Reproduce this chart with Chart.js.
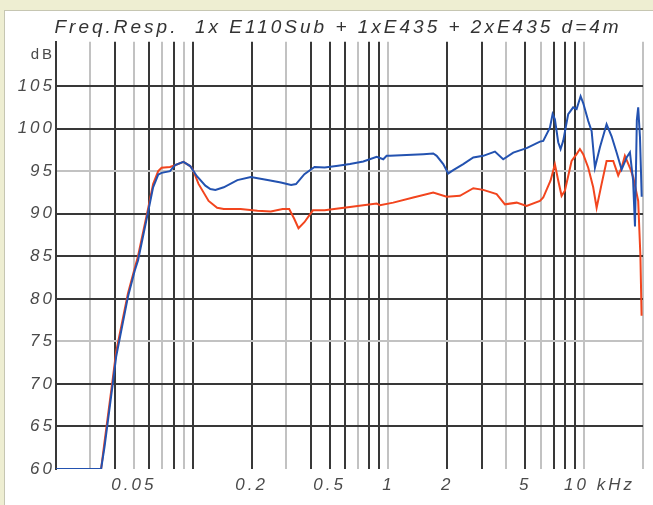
<!DOCTYPE html>
<html>
<head>
<meta charset="utf-8">
<script src="https://cdn.jsdelivr.net/npm/chart.js@4/dist/chart.umd.min.js"></script>
<style>
  html, body { margin: 0; padding: 0; background: #eeeed2; overflow: hidden; }
  #panel { position: absolute; left: 4px; top: 10px; width: 660px; height: 510px; background: #fff; border: 1px solid #c6c6b2; }
  #wrap { position: absolute; left: 0; top: 0; width: 653px; height: 505px; }
</style>
</head>
<body>
<div id="panel"></div>
<div id="wrap"><canvas id="freq" width="653" height="505"></canvas></div>
<script>
// frequencies in kHz, levels in dB
const blueFreq = [0.02, 0.034, 0.0354, 0.039, 0.0406, 0.0466, 0.0505, 0.0525, 0.0591, 0.0627,
  0.0666, 0.0693, 0.0765, 0.0812, 0.0896, 0.097, 0.105, 0.116, 0.123, 0.1305,
  0.144, 0.169, 0.198, 0.241, 0.282, 0.318, 0.337, 0.372, 0.419, 0.472,
  0.553, 0.636, 0.744, 0.871, 0.941, 0.979, 1.018, 1.507, 1.694, 1.764,
  1.906, 2.022, 2.144, 2.412, 2.714, 3.052, 3.502, 3.86, 4.344, 5.084,
  5.946, 6.182, 6.688, 6.904, 7.092, 7.374, 7.584, 7.82, 8.294, 8.796,
  9.156, 9.598, 9.894, 10.5, 10.93, 11.36, 12.05, 13.03, 13.82, 14.66,
  15.55, 16.49, 17.15, 17.8, 18.2, 18.6, 18.9, 19.3, 19.7];
const blueDb = [60, 60, 62.6, 70.0, 73.2, 80.2, 83.3, 84.5, 90.2, 93.1,
  94.6, 94.8, 95.0, 95.7, 96.1, 95.6, 94.4, 93.3, 92.9, 92.8,
  93.1, 93.95, 94.3, 93.95, 93.67, 93.37, 93.48, 94.65, 95.5, 95.43,
  95.63, 95.83, 96.13, 96.68, 96.4, 96.8, 96.8, 97.0, 97.07, 96.8,
  95.83, 94.73, 95.12, 95.83, 96.6, 96.8, 97.3, 96.4, 97.18, 97.7,
  98.47, 98.56, 100.1, 101.7, 101.1, 98.4, 97.6, 98.56, 101.7, 102.5,
  102.3, 103.8, 103.0, 100.9, 99.7, 95.4, 97.8, 100.5, 99.1, 97.2,
  95.2, 96.6, 97.2, 93.9, 88.5, 101, 102.5, 99, 92];

const redFreq = [0.02, 0.034, 0.0354, 0.039, 0.0406, 0.0466, 0.0505, 0.0525, 0.0591, 0.0627,
  0.0666, 0.0693, 0.0765, 0.0812, 0.0896, 0.097, 0.1, 0.107, 0.1205, 0.1332,
  0.144, 0.1755, 0.214, 0.2506, 0.288, 0.311, 0.330, 0.347, 0.372, 0.411,
  0.472, 0.553, 0.636, 0.744, 0.871, 0.905, 1.058, 1.339, 1.694, 1.984,
  2.32, 2.714, 3.052, 3.572, 3.938, 4.522, 5.084, 5.946, 6.182, 6.742,
  7.092, 7.374, 7.674, 7.978, 8.632, 9.156, 9.52, 9.894, 10.5, 11.13,
  11.59, 12.29, 13.03, 14.09, 14.94, 15.55, 16.16, 17.15, 17.82, 18.9,
  19.4, 19.67];
const redDb = [60, 60, 63.2, 70.6, 73.8, 80.6, 83.6, 85, 90.6, 93.5,
  95.0, 95.4, 95.5, 95.7, 96.1, 95.6, 95.2, 93.5, 91.5, 90.7,
  90.55, 90.55, 90.35, 90.27, 90.55, 90.55, 89.4, 88.3, 89.0, 90.4,
  90.4, 90.6, 90.8, 91.0, 91.2, 91.0, 91.3, 91.9, 92.5, 92.0,
  92.1, 93.0, 92.8, 92.3, 91.1, 91.3, 90.9, 91.5, 91.9, 93.9,
  95.8, 93.9, 92.1, 92.7, 96.2, 97.0, 97.6, 97.0, 95.4, 93.1,
  90.7, 93.5, 96.2, 96.2, 94.5, 95.4, 96.8, 95.4, 94.3, 91.5,
  85, 78];

// axis ticks
const xGridTicks = [0.02, 0.03, 0.04, 0.05, 0.06, 0.07, 0.08, 0.09,
  0.1, 0.2, 0.3, 0.4, 0.5, 0.6, 0.7, 0.8, 0.9,
  1, 2, 3, 4, 5, 6, 7, 8, 9, 10, 20];
const xLabelValues = [0.05, 0.2, 0.5, 1, 2, 5, 10];
const xLabelTexts = ['0.05', '0.2', '0.5', '1', '2', '5', '    10 kHz'];
const xDarkLines = [0.02, 0.04, 0.06, 0.08, 0.1, 0.2, 0.4, 0.5, 0.6, 0.8, 0.9, 2, 3, 5, 7, 8, 9];

const yTicks = [60, 65, 70, 75, 80, 85, 90, 95, 100, 105];
const yDarkLines = [65, 70, 80, 85, 90, 100, 105];
const yUnitAt = 108.7;

const DARK = '#383838';
const LIGHT = '#c2c2c2';
const TEXT = '#4a4a4a';

const toPoints = (xs, ys) => xs.map((x, i) => ({ x, y: ys[i] }));

const spacing = {
  id: 'spacing',
  beforeUpdate(chart) { chart.ctx.letterSpacing = '3px'; },
  beforeDraw(chart) { chart.ctx.letterSpacing = '3px'; }
};

const ctx = document.getElementById('freq');

new Chart(ctx, {
  type: 'line',
  data: {
    datasets: [
      {
        label: 'blue',
        data: toPoints(blueFreq, blueDb),
        borderColor: '#2352b0',
        borderWidth: 2,
        pointRadius: 0,
        tension: 0,
      },
      {
        label: 'red',
        data: toPoints(redFreq, redDb),
        borderColor: '#f2451e',
        borderWidth: 2,
        pointRadius: 0,
        tension: 0,
      },
    ],
  },
  options: {
    responsive: false,
    animation: false,
    layout: { padding: { left: 0, right: 10, top: 0, bottom: 0 } },
    plugins: {
      legend: { display: false },
      tooltip: { enabled: false },
      title: {
        display: true,
        text: '    Freq.Resp.  1x E110Sub + 1xE435 + 2xE435 d=4m',
        color: '#333',
        font: { family: 'Liberation Sans', size: 19, style: 'italic', weight: 'normal' },
        padding: { top: 16, bottom: 3 },
      },
    },
    scales: {
      x: {
        type: 'logarithmic',
        min: 0.02,
        max: 20,
        afterBuildTicks: (scale) => { scale.ticks = xGridTicks.map(v => ({ value: v })); },
        afterFit: (scale) => { scale.height = 36; },
        border: { display: false },
        grid: {
          drawTicks: false,
          color: (c) => xDarkLines.includes(c.tick.value) ? DARK : LIGHT,
          lineWidth: 2,
        },
        ticks: {
          autoSkip: false,
          maxRotation: 0,
          padding: 6,
          color: TEXT,
          font: { family: 'Liberation Sans', size: 17, style: 'italic' },
          callback: (value) => {
            const i = xLabelValues.indexOf(value);
            return i >= 0 ? xLabelTexts[i] : '';
          },
        },
      },
      y: {
        min: 60,
        max: 110.2,
        afterBuildTicks: (scale) => {
          scale.ticks = [...yTicks, yUnitAt].map(v => ({ value: v }));
        },
        afterFit: (scale) => { scale.width = 56; },
        border: { display: true, color: DARK, width: 2 },
        grid: {
          drawTicks: false,
          color: (c) => {
            const v = c.tick.value;
            if (v === 60 || v === yUnitAt) return 'rgba(0,0,0,0)';
            return yDarkLines.includes(v) ? DARK : LIGHT;
          },
          lineWidth: 2,
        },
        ticks: {
          padding: 1,
          color: TEXT,
          font: (c) => c.tick && c.tick.value === yUnitAt
            ? { family: 'Liberation Sans', size: 15, style: 'normal' }
            : { family: 'Liberation Sans', size: 17, style: 'italic' },
          callback: (value) => value === yUnitAt ? 'dB' : String(value),
        },
      },
    },
  },
  plugins: [spacing],
});
</script>
</body>
</html>
